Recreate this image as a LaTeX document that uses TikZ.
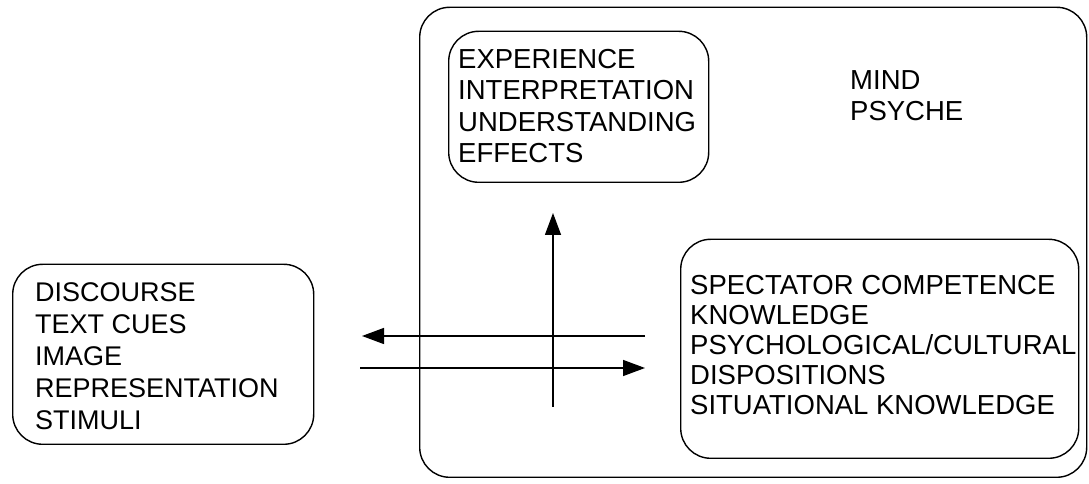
\documentclass[tikz,border=0pt]{standalone}
\usepackage{fontspec}
\setmainfont{Liberation Sans}
\usetikzlibrary{arrows.meta,positioning}

\tikzset{
  box/.style={draw, line width=1.4pt, rounded corners=30pt, inner sep=0pt},
  words/.style={anchor=north west, align=left, inner sep=0pt,
    font=\fontsize{27.5}{31.5}\selectfont},
  flow/.style={line width=1.4pt, -{Triangle[length=22pt,width=16pt]}}
}

\begin{document}
\begin{tikzpicture}[x=1pt, y=1pt]
    % 1. Vùng hiển thị
    \useasboundingbox (0, 0) rectangle (1089, 484);

    % 2. Các khung
    \node[box, minimum width=667pt, minimum height=470pt, anchor=south west] (mind) at (419, 6) {};
    \node[box, minimum width=260pt, minimum height=151pt, anchor=south west] (effects) at (448, 301) {};
    \node[box, minimum width=398pt, minimum height=219pt, anchor=south west] (spect) at (680, 25) {};
    \node[box, minimum width=301pt, minimum height=180pt, anchor=south west] (discourse) at (12, 39) {};

    % 3. Chữ trong khung
    \node[words] (effectstext) at (458, 435) {EXPERIENCE\\INTERPRETATION\\UNDERSTANDING\\EFFECTS};
    \node[words] (mindtext) at (850, 414) {MIND\\PSYCHE};
    \node[words, font=\fontsize{27.5}{30}\selectfont] (specttext) at (690, 209) {SPECTATOR COMPETENCE\\KNOWLEDGE\\PSYCHOLOGICAL/CULTURAL\\DISPOSITIONS\\SITUATIONAL KNOWLEDGE};
    \node[words, font=\fontsize{27}{32}\selectfont] (discoursetext) at (35, 202) {DISCOURSE\\TEXT CUES\\IMAGE\\REPRESENTATION\\STIMULI};

    % 4. Các điểm đầu mũi tên
    \coordinate (upfoot) at (553, 77);
    \coordinate (uptip) at (553, 271);
    \coordinate (backfoot) at (645, 148);
    \coordinate (backtip) at (362, 148);
    \coordinate (forthfoot) at (360, 116);
    \coordinate (forthtip) at (645, 116);

    % 5. Mũi tên
    \draw[flow] (upfoot) -- (uptip);
    \draw[flow] (backfoot) -- (backtip);
    \draw[flow] (forthfoot) -- (forthtip);
\end{tikzpicture}
\end{document}
